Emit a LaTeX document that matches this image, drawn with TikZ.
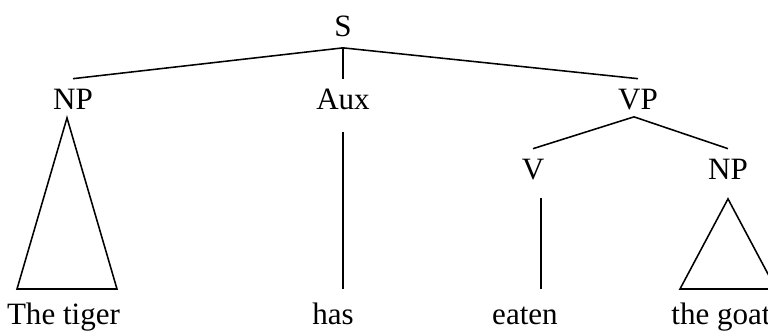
\documentclass[tikz,border=0pt]{standalone}
\usepackage{fontspec}
\setmainfont{Liberation Serif}
\usepackage{tikz}
\usetikzlibrary{calc}

\begin{document}
\begin{tikzpicture}[
x=0.3864pt, y=-0.3864pt,
font=\fontsize{12pt}{14pt}\selectfont,
lbl/.style={anchor=base, inner xsep=0pt, inner ysep=4pt, text height=7.9pt, text depth=0pt},
word/.style={anchor=base, inner xsep=0pt, inner ysep=5.5pt, text height=8.2pt, text depth=0pt},
edge/.style={line width=0.6pt}
]
\useasboundingbox (0,0) rectangle (768,334);
% category labels
\node[lbl] (S) at (343,37) {S};
\node[lbl] (NPa) at (73,110) {NP};
\node[lbl] (Aux) at (343,110) {Aux};
\node[lbl] (VP) at (638,110) {VP};
\node[lbl] (V) at (533,180) {V};
\node[lbl] (NPb) at (728,180) {NP};
% words
\node[word] (tiger) at (63.5,325) {The tiger};
\node[word] (has) at (333,325) {has};
\node[word] (eaten) at (525,325) {eaten};
\node[word] (goat) at (721,325) {the goat};
% branches
\draw[edge] (S.south) -- (NPa.north);
\draw[edge] (S.south) -- (Aux.north);
\draw[edge] (S.south) -- (VP.north);
\draw[edge] ($(VP.south)+(-4,-4)$) -- (V.north);
\draw[edge] ($(VP.south)+(-4,-4)$) -- (NPb.north);
\draw[edge] ($(Aux.south)+(0,11)$) -- (Aux.south |- has.north);
\draw[edge] ($(V.south)+(8,7)$) -- ($(eaten.north)+(16,0)$);
% triangles
\draw[edge] ($(NPa.south)+(-6,-3)$) -- ($(tiger.north)+(-46.5,0)$) -- ($(tiger.north)+(53.5,0)$) -- cycle;
\draw[edge] ($(NPb.south)+(0,8)$) -- ($(goat.north)+(-41,0)$) -- ($(goat.north)+(55,0)$) -- cycle;
\end{tikzpicture}
\end{document}
